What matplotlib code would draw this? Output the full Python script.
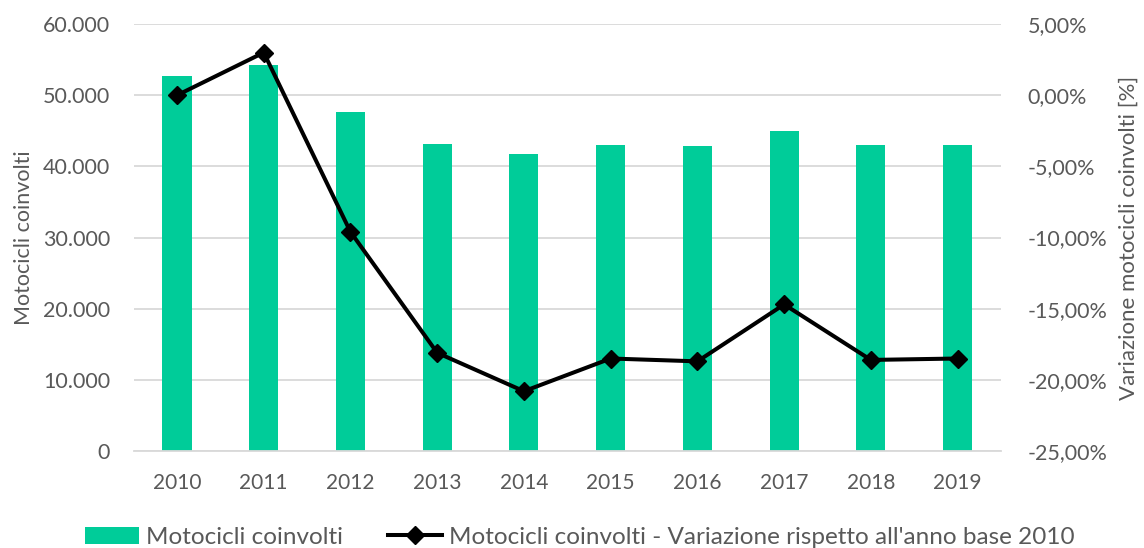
import matplotlib.pyplot as plt
import matplotlib.ticker as mticker
import numpy as np

plt.rcParams['font.family'] = ['Lato', 'DejaVu Sans']

# ===============================
# DATA
# ===============================
anni = ["2010", "2011", "2012", "2013", "2014", "2015", "2016", "2017", "2018", "2019"]
motocicli = [52700, 54300, 47700, 43200, 41700, 43000, 42900, 45000, 43000, 43000]
variazione = [0.0, 3.0, -9.6, -18.1, -20.8, -18.5, -18.7, -14.7, -18.6, -18.5]

verde = "#00CC99"
grigio = "#595959"
griglia = "#D9D9D9"

# ===============================
# PLOT
# ===============================
fig = plt.figure(figsize=(11.44, 5.48), dpi=100)
ax = fig.add_axes([0.1168, 0.177, 0.7582, 0.779])
ax2 = ax.twinx()

x = np.arange(len(anni))
bars = ax.bar(x, motocicli, width=0.335, color=verde, zorder=2,
              label="Motocicli coinvolti")
line, = ax2.plot(x, variazione, color="black", lw=2.9, marker="D", ms=9,
                 zorder=3,
                 label="Motocicli coinvolti - Variazione rispetto all'anno base 2010")

ax.set_xlim(-0.5, len(anni) - 0.5)
ax.set_ylim(0, 60000)
ax.set_yticks(np.arange(0, 60001, 10000))
ax.yaxis.set_major_formatter(mticker.FuncFormatter(
    lambda v, p: f"{v:,.0f}".replace(",", ".")))
ax2.set_ylim(-25, 5)
ax2.set_yticks(np.arange(-25, 5.1, 5))
ax2.yaxis.set_major_formatter(mticker.FuncFormatter(
    lambda v, p: f"{v:.2f}".replace(".", ",").replace("-0,00", "0,00") + "%"))

ax.set_xticks(x)
ax.set_xticklabels(anni)

ax.grid(axis="y", color=griglia, lw=1.3, zorder=0)
ax.set_axisbelow(True)
for a in (ax, ax2):
    for s in a.spines.values():
        s.set_visible(False)
    a.tick_params(length=0, labelsize=15.5, colors=grigio)
ax.spines["bottom"].set_visible(True)
ax.spines["bottom"].set_color(griglia)
ax.spines["bottom"].set_linewidth(1.3)
ax.tick_params(axis="x", labelsize=15, pad=16)
ax.tick_params(axis="y", pad=17)
ax2.tick_params(axis="y", pad=19)

ax.set_ylabel("Motocicli coinvolti", fontsize=15.5, color=grigio, labelpad=6)
ax2.set_ylabel("Variazione motocicli coinvolti [%]", fontsize=16, color=grigio,
               labelpad=8)

fig.legend(handles=[bars, line], loc="center", bbox_to_anchor=(0.507, 0.02),
           ncol=2, frameon=False, fontsize=17.5, labelcolor=grigio,
           handlelength=2.2, handletextpad=0.3, columnspacing=1.85)

plt.savefig("out.png", dpi=100)
